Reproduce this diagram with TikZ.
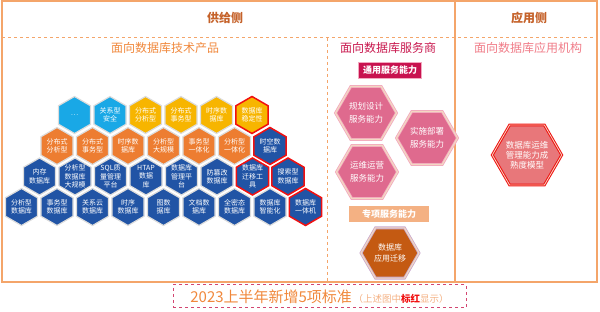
\documentclass[tikz,border=0pt]{standalone}
\usepackage{fontspec}
\setmainfont{Noto Sans CJK SC}
\usepackage{tikz}
\usetikzlibrary{shapes.geometric, positioning}

\definecolor{framec}{HTML}{F4A56A}
\definecolor{sidec}{HTML}{C5622A}
\definecolor{prodc}{HTML}{F0883C}
\definecolor{servc}{HTML}{C8184E}
\definecolor{appc}{HTML}{F07C88}
\definecolor{techlb}{HTML}{19A8E6}
\definecolor{techyl}{HTML}{F7B500}
\definecolor{techor}{HTML}{ED7D31}
\definecolor{techdb}{HTML}{2154A5}
\definecolor{hexgray}{HTML}{DCDCDC}
\definecolor{newred}{HTML}{F01010}
\definecolor{servpink}{HTML}{DF6A8E}
\definecolor{servline}{HTML}{F2A8BE}
\definecolor{beige}{HTML}{F3D8C2}
\definecolor{migor}{HTML}{C45A12}
\definecolor{migline}{HTML}{C8A8CC}
\definecolor{appfill}{HTML}{E8777A}
\definecolor{genbox}{HTML}{C8124F}
\definecolor{spebox}{HTML}{F4B183}
\definecolor{notec}{HTML}{F4B183}

\begin{document}
\begin{tikzpicture}[
  x=1pt, y=-1pt,
  thex/.style={regular polygon, regular polygon sides=6, shape border rotate=30, minimum size=37pt, inner sep=-3pt, draw=hexgray, line width=1.2pt, text=white, align=center, font=\fontsize{7}{8.3}\selectfont},
  lb/.style={thex, fill=techlb},
  yl/.style={thex, fill=techyl},
  or/.style={thex, fill=techor},
  db/.style={thex, fill=techdb},
  newstd/.style={draw=newred, line width=1.5pt},
  shex/.style={regular polygon, regular polygon sides=6, minimum size=61pt, inner sep=0pt, fill=servpink, draw=servline, double=beige, double distance=1.2pt, line width=0.8pt, text=white, align=center, font=\fontsize{8.5}{12.5}\selectfont},
  sbox/.style={rectangle, minimum height=16pt, inner sep=0pt, text=white, font=\fontsize{9}{10}\selectfont\bfseries},
  head/.style={font=\fontsize{12}{14}\selectfont\bfseries, text=sidec},
  sub/.style={font=\fontsize{12}{14}\selectfont},
]
\useasboundingbox (0,0) rectangle (600,312);

%% Frame
\draw[framec, line width=1.2pt] (2,1) rectangle (597,282);
\draw[framec, line width=1.2pt] (455,1) -- (455,282);
\draw[framec, line width=1pt, dashed] (2,38) -- (597,38);
\draw[framec, line width=1pt, dashed] (327,38) -- (327,282);

%% Headers
\node[head] (supply) at (225,18) {供给侧};
\node[head] (apply)  at (529,18) {应用侧};
\node[sub, text=prodc] (prod) at (165,48) {面向数据库技术产品};
\node[sub, text=servc] (serv) at (388,48) {面向数据库服务商};
\node[sub, text=appc]  (inst) at (528,48) {面向数据库应用机构};

%% Row 1
\node[lb] (r1a) at (74.5,115)  {…};
\node[lb] (r1b) at (110,115)   {关系型\\安全};
\node[yl] (r1c) at (145.5,115) {分布式\\分析型};
\node[yl] (r1d) at (181,115)   {分布式\\事务型};
\node[yl] (r1e) at (216.5,115) {时序数\\据库};
\node[yl, newstd] (r1f) at (252,115) {数据库\\稳定性};

%% Row 2
\node[or] (r2a) at (57,146)    {分布式\\分析型};
\node[or] (r2b) at (92.5,146)  {分布式\\事务型};
\node[or] (r2c) at (128,146)   {时序数\\据库};
\node[or] (r2d) at (163.5,146) {分析型\\大规模};
\node[or] (r2e) at (199,146)   {事务型\\一体化};
\node[or] (r2f) at (234.5,146) {分析型\\一体化};
\node[db, newstd] (r2g) at (270,146) {时空数\\据库};

%% Row 3
\node[db] (r3a) at (39.5,176.5)  {内存\\数据库};
\node[db] (r3b) at (75,176.5)    {分析型\\数据库\\大规模};
\node[db] (r3c) at (110.5,176.5) {SQL质\\量管理\\平台};
\node[db] (r3d) at (146,176.5)   {HTAP\\数据\\库};
\node[db] (r3e) at (181.5,176.5) {数据库\\管理平\\台};
\node[db] (r3f) at (217,176.5)   {防篡改\\数据库};
\node[db, newstd] (r3g) at (252.5,176.5) {数据库\\迁移工\\具};
\node[db, newstd] (r3h) at (288,176.5)   {搜索型\\数据库};

%% Row 4
\node[db] (r4a) at (21.5,207)  {分析型\\数据库};
\node[db] (r4b) at (57,207)    {事务型\\数据库};
\node[db] (r4c) at (92.5,207)  {关系云\\数据库};
\node[db] (r4d) at (128,207)   {时序\\数据库};
\node[db] (r4e) at (163.5,207) {图数\\据库};
\node[db] (r4f) at (199,207)   {文档数\\据库};
\node[db] (r4g) at (234.5,207) {全密态\\数据库};
\node[db] (r4h) at (270,207)   {数据库\\智能化};
\node[db, newstd] (r4i) at (305.5,207) {数据库\\一体机};

%% Service providers
\node[sbox, fill=genbox, draw=servline, minimum width=63pt] (general) at (390,70) {通用服务能力};
\node[shex] (plan)    at (366,113) {规划设计\\服务能力};
\node[shex] (deploy)  at (427,138) {实施部署\\服务能力};
\node[shex] (operate) at (367,172) {运维运营\\服务能力};
\node[sbox, fill=spebox, minimum width=80pt] (special) at (389,214) {专项服务能力};
\node[shex, minimum size=58pt, fill=migor, draw=migline, font=\fontsize{8}{11.5}\selectfont] (migrate) at (390,253) {数据库\\应用迁移};

%% Application institutions
\node[shex, minimum size=68pt, fill=appfill, draw=newred, line width=1pt, double distance=0.8pt, font=\fontsize{8.5}{10}\selectfont] (model) at (527,155) {数据库运维\\管理能力成\\熟度模型};

%% Note
\node[draw=servc!80, dashed, line width=1pt, minimum width=293pt, minimum height=23pt, inner sep=0pt] (note) at (319.5,296.5) {};
\node (notetext) at (note.center) {{\fontsize{15}{16}\selectfont\color{prodc}2023上半年新增5项标准}\,{\fontsize{9.5}{10}\selectfont\color{notec}（上述图中{\bfseries\color{newred}标红}显示）}};
\end{tikzpicture}
\end{document}
